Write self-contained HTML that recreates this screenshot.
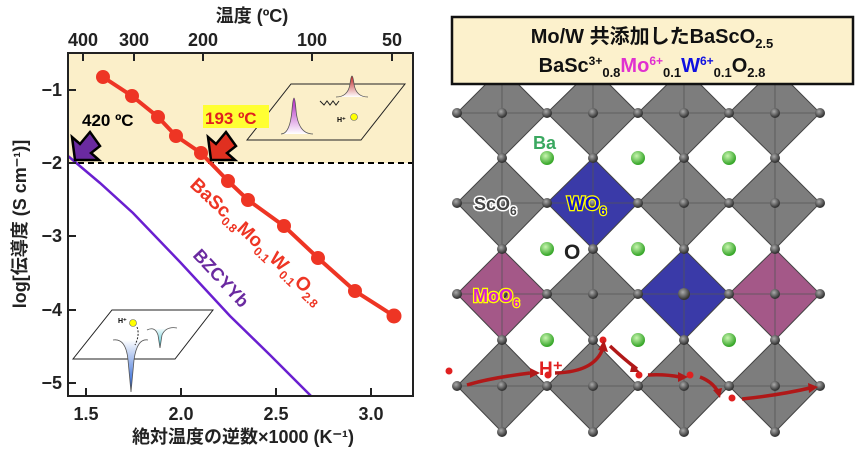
<!DOCTYPE html>
<html><head><meta charset="utf-8"><style>
body{margin:0;background:#fff}
svg{display:block;font-family:"Liberation Sans","Noto Sans CJK JP",sans-serif}
</style></head><body>
<svg width="861" height="451" viewBox="0 0 861 451" xmlns="http://www.w3.org/2000/svg">
<defs>
<radialGradient id="g" cx="40%" cy="35%" r="60%"><stop offset="0" stop-color="#c8f5b0"/><stop offset="1" stop-color="#3aa82c"/></radialGradient>
<radialGradient id="o" cx="40%" cy="35%" r="60%"><stop offset="0" stop-color="#aaa"/><stop offset="1" stop-color="#333"/></radialGradient>
<linearGradient id="pk" x1="0" y1="0" x2="0" y2="1"><stop offset="0" stop-color="#b020c0"/><stop offset="1" stop-color="#fff"/></linearGradient>
<linearGradient id="rd" x1="0" y1="0" x2="0" y2="1"><stop offset="0" stop-color="#c02020"/><stop offset="1" stop-color="#fff"/></linearGradient>
<linearGradient id="bl" x1="0" y1="1" x2="0" y2="0"><stop offset="0" stop-color="#1050d0"/><stop offset="1" stop-color="#fff"/></linearGradient>
<linearGradient id="cy" x1="0" y1="1" x2="0" y2="0"><stop offset="0" stop-color="#30c0d0"/><stop offset="1" stop-color="#fff"/></linearGradient>
</defs>
<rect x="68" y="53" width="345" height="110" fill="#fbefc9"/>
<line x1="68" y1="163" x2="413" y2="163" stroke="#000" stroke-width="2" stroke-dasharray="6,4"/>
<polygon points="247,140 361,140 405,84 291,84" fill="none" stroke="#222" stroke-width="1"/>
<path d="M281,134 Q290,134 292,110 Q294,86 296,110 Q298,134 313,134" fill="url(#pk)" stroke="#555" stroke-width="0.8"/>
<path d="M336,97 Q348,97 350,84 Q352,68 354,84 Q356,97 368,97" fill="url(#rd)" stroke="#555" stroke-width="0.8"/>
<path d="M320,101 l4,4 l3,-4 l3,4 l3,-4 l3,4 l3,-4" fill="none" stroke="#222" stroke-width="1"/>
<circle cx="354" cy="117" r="3.5" fill="#ff0" stroke="#666" stroke-width="0.6"/>
<text x="337" y="122" font-size="7" font-weight="bold">H⁺</text>
<polygon points="73,359 175,359 213,310 112,310" fill="none" stroke="#222" stroke-width="1"/>
<path d="M113,340 Q126,338 128,360 L131,392 L134,360 Q137,338 148,340" fill="url(#bl)" stroke="#555" stroke-width="0.8"/>
<path d="M147,330 Q155,326 158,335 L160,348 L162,335 Q166,326 177,328" fill="url(#cy)" stroke="#555" stroke-width="0.8"/>
<circle cx="133" cy="323" r="3.5" fill="#ff0" stroke="#666" stroke-width="0.6"/>
<text x="118" y="323" font-size="7" font-weight="bold">H⁺</text>
<path d="M137,327 Q140,335 135,345" fill="none" stroke="#222" stroke-dasharray="2,1.5"/>
<polyline points="68,156 100,183 133,213 180,262 230,316 270,355 311,396" fill="none" stroke="#6a1fd0" stroke-width="2.5"/>
<polyline points="103,77 132,96 158,117 176,136 201,153 228,181 248,200 284,226 318,258 355,291 394,316" fill="none" stroke="#ee3524" stroke-width="4"/>
<g fill="#ee3524">
<circle cx="103" cy="77" r="7"/><circle cx="132" cy="96" r="7"/><circle cx="158" cy="117" r="7"/><circle cx="176" cy="136" r="7"/><circle cx="201" cy="153" r="7"/><circle cx="228" cy="181" r="7"/><circle cx="248" cy="200" r="7"/><circle cx="284" cy="226" r="7"/><circle cx="318" cy="258" r="7"/><circle cx="355" cy="291" r="7"/><circle cx="394" cy="316" r="7.5"/>
</g>
<polygon points="75,160 72,137 80,144 90,132 100,146 91,153 99,160" fill="#6a2aa0" stroke="#000" stroke-width="2.5"/>
<polygon points="211,160 208,137 216,144 226,132 236,146 227,153 235,160" fill="#e03020" stroke="#000" stroke-width="2.5"/>
<text x="82" y="126" font-size="17" font-weight="bold">420 ºC</text>
<rect x="203" y="105" width="66" height="23" fill="#ffff33"/>
<text x="205" y="124" font-size="17" font-weight="bold" fill="#e02020">193 ºC</text>
<text transform="translate(189,186) rotate(43)" font-size="19" font-weight="bold" fill="#ee3524">BaSc<tspan font-size="12" dy="5">0.8</tspan><tspan dy="-5">Mo</tspan><tspan font-size="12" dy="5">0.1</tspan><tspan dy="-5">W</tspan><tspan font-size="12" dy="5">0.1</tspan><tspan dy="-5">O</tspan><tspan font-size="12" dy="5">2.8</tspan></text>
<text transform="translate(192,256) rotate(47)" font-size="18" font-weight="bold" fill="#6a2aa0">BZCYYb</text>
<rect x="68" y="53" width="345" height="343" fill="none" stroke="#222" stroke-width="2"/>
<g stroke="#222" stroke-width="2">
<line x1="86" y1="396" x2="86" y2="388"/><line x1="181" y1="396" x2="181" y2="388"/><line x1="276" y1="396" x2="276" y2="388"/><line x1="371" y1="396" x2="371" y2="388"/>
<line x1="68" y1="90" x2="76" y2="90"/><line x1="68" y1="163" x2="76" y2="163"/><line x1="68" y1="236" x2="76" y2="236"/><line x1="68" y1="310" x2="76" y2="310"/><line x1="68" y1="383" x2="76" y2="383"/>
<line x1="83" y1="53" x2="83" y2="61"/><line x1="134" y1="53" x2="134" y2="61"/><line x1="203" y1="53" x2="203" y2="61"/><line x1="312" y1="53" x2="312" y2="61"/><line x1="392" y1="53" x2="392" y2="61"/>
</g>
<g font-size="18" font-weight="bold" fill="#222" text-anchor="middle">
<text x="86" y="420">1.5</text><text x="181" y="420">2.0</text><text x="276" y="420">2.5</text><text x="371" y="420">3.0</text>
<text x="83" y="46">400</text><text x="134" y="46">300</text><text x="203" y="46">200</text><text x="312" y="46">100</text><text x="392" y="46">50</text>
<text x="252" y="22">温度 (ºC)</text>
<text x="243" y="443">絶対温度の逆数×1000 (K⁻¹)</text>
</g>
<g font-size="18" font-weight="bold" fill="#222" text-anchor="end">
<text x="62" y="96">−1</text><text x="62" y="169">−2</text><text x="62" y="242">−3</text><text x="62" y="316">−4</text><text x="62" y="389">−5</text>
</g>
<text transform="translate(26,224) rotate(-90)" font-size="18" font-weight="bold" fill="#222" text-anchor="middle">log[伝導度 (S cm⁻¹)]</text>

<g stroke="#444" stroke-width="1">
<g fill="#7d7d7d">
<polygon points="457,113 502,68 547,113 502,158"/><polygon points="547,113 593,68 638,113 593,158"/><polygon points="638,113 684,68 729,113 684,158"/><polygon points="729,113 775,68 820,113 775,158"/>
<polygon points="457,203 502,158 547,203 502,249"/><polygon points="638,203 684,158 729,203 684,249"/><polygon points="729,203 775,158 820,203 775,249"/>
<polygon points="547,294 593,249 638,294 593,340"/>
<polygon points="457,386 502,340 547,386 502,432"/><polygon points="547,386 593,340 638,386 593,432"/><polygon points="638,386 684,340 729,386 684,432"/><polygon points="729,386 775,340 820,386 775,432"/>
</g>
<polygon points="547,203 593,158 638,203 593,249" fill="#3a3aa8"/>
<polygon points="638,294 684,249 729,294 684,340" fill="#3a3aa8"/>
<polygon points="457,294 502,249 547,294 502,340" fill="#a45888"/>
<polygon points="729,294 775,249 820,294 775,340" fill="#a45888"/>
<path d="M457,113H820M457,203H820M457,294H820M457,386H820M502,68V432M593,68V432M684,68V432M775,68V432" stroke="#555" stroke-width="0.8"/>
</g>
<g fill="url(#o)">
<circle cx="457" cy="113" r="5"/><circle cx="547" cy="113" r="5"/><circle cx="638" cy="113" r="5"/><circle cx="729" cy="113" r="5"/><circle cx="820" cy="113" r="5"/>
<circle cx="502" cy="158" r="5"/><circle cx="593" cy="158" r="5"/><circle cx="684" cy="158" r="5"/><circle cx="775" cy="158" r="5"/>
<circle cx="457" cy="203" r="5"/><circle cx="547" cy="203" r="5"/><circle cx="638" cy="203" r="5"/><circle cx="729" cy="203" r="5"/><circle cx="820" cy="203" r="5"/>
<circle cx="502" cy="249" r="5"/><circle cx="593" cy="249" r="5"/><circle cx="684" cy="249" r="5"/><circle cx="775" cy="249" r="5"/>
<circle cx="457" cy="294" r="5"/><circle cx="547" cy="294" r="5"/><circle cx="638" cy="294" r="5"/><circle cx="729" cy="294" r="5"/><circle cx="820" cy="294" r="5"/>
<circle cx="502" cy="340" r="5"/><circle cx="593" cy="340" r="5"/><circle cx="684" cy="340" r="5"/><circle cx="775" cy="340" r="5"/>
<circle cx="457" cy="386" r="5"/><circle cx="547" cy="386" r="5"/><circle cx="638" cy="386" r="5"/><circle cx="729" cy="386" r="5"/><circle cx="820" cy="386" r="5"/>
<circle cx="502" cy="432" r="5"/><circle cx="593" cy="432" r="5"/><circle cx="684" cy="432" r="5"/><circle cx="775" cy="432" r="5"/>
<circle cx="502" cy="113" r="5"/><circle cx="593" cy="113" r="5"/><circle cx="684" cy="113" r="5"/><circle cx="775" cy="113" r="5"/>
<circle cx="502" cy="203" r="5"/><circle cx="593" cy="203" r="5"/><circle cx="684" cy="203" r="5"/><circle cx="775" cy="203" r="5"/>
<circle cx="502" cy="294" r="5"/><circle cx="593" cy="294" r="5"/><circle cx="684" cy="294" r="6"/><circle cx="775" cy="294" r="5"/>
<circle cx="502" cy="386" r="5"/><circle cx="593" cy="386" r="5"/><circle cx="684" cy="386" r="5"/><circle cx="775" cy="386" r="5"/>
</g>
<g fill="url(#g)">
<circle cx="547" cy="158" r="7"/><circle cx="638" cy="158" r="7"/><circle cx="729" cy="158" r="7"/>
<circle cx="547" cy="249" r="7"/><circle cx="638" cy="249" r="7"/><circle cx="729" cy="249" r="7"/>
<circle cx="547" cy="340" r="7"/><circle cx="638" cy="340" r="7"/><circle cx="729" cy="340" r="7"/>
</g>
<g font-weight="bold">
<text x="533" y="149" font-size="18" fill="#3aa860">Ba</text>
<text x="474" y="210" font-size="18" fill="#444" stroke="#fff" stroke-width="3" paint-order="stroke">ScO<tspan font-size="12" dy="5">6</tspan></text>
<text x="567" y="210" font-size="19" fill="#1010d0" stroke="#ff0" stroke-width="2.5" paint-order="stroke">WO<tspan font-size="12" dy="5">6</tspan></text>
<text x="564" y="259" font-size="21" fill="#222">O</text>
<text x="473" y="302" font-size="18" fill="#d020d0" stroke="#ff0" stroke-width="2.5" paint-order="stroke">MoO<tspan font-size="12" dy="5">6</tspan></text>
<text x="539" y="375" font-size="19" fill="#e02020">H⁺</text>
</g>
<g fill="#e02020">
<circle cx="449" cy="371" r="3.5"/><circle cx="548" cy="375" r="3.5"/><circle cx="603" cy="340" r="3.5"/><circle cx="639" cy="375" r="3.5"/><circle cx="690" cy="375" r="3.5"/><circle cx="732" cy="398" r="3.5"/>
</g>
<g fill="none" stroke="#b01818" stroke-width="3.5">
<path d="M467,385 Q490,378 530,373"/><path d="M555,373 Q595,372 603,348"/><path d="M610,346 Q625,360 637,369"/><path d="M648,375 Q665,374 680,377"/><path d="M700,377 Q713,382 718,392"/><path d="M742,399 Q780,395 810,388"/>
</g>
<g fill="#b01818">
<polygon points="530,368 540,373 530,378"/><polygon points="598,350 604,340 608,352"/><polygon points="632,364 640,372 630,372"/><polygon points="678,372 688,377 678,382"/><polygon points="713,390 720,398 722,388"/><polygon points="808,383 818,387 809,393"/>
</g>
<rect x="452" y="17" width="401" height="67" fill="#fcf1cc" stroke="#111" stroke-width="2.5"/>
<text x="652" y="43" font-size="20" font-weight="bold" text-anchor="middle" fill="#111">Mo/W 共添加したBaScO<tspan font-size="13" dy="5">2.5</tspan></text>
<text x="652" y="72" font-size="20" font-weight="bold" text-anchor="middle" fill="#111">BaSc<tspan font-size="12" dy="-7">3+</tspan><tspan font-size="13" dy="12">0.8</tspan><tspan fill="#e030d0" dy="-5">Mo</tspan><tspan font-size="12" dy="-7" fill="#e030d0">6+</tspan><tspan font-size="13" dy="12">0.1</tspan><tspan fill="#1010e0" dy="-5">W</tspan><tspan font-size="12" dy="-7" fill="#1010e0">6+</tspan><tspan font-size="13" dy="12">0.1</tspan><tspan dy="-5">O</tspan><tspan font-size="13" dy="5">2.8</tspan></text>
</svg>
</body></html>
